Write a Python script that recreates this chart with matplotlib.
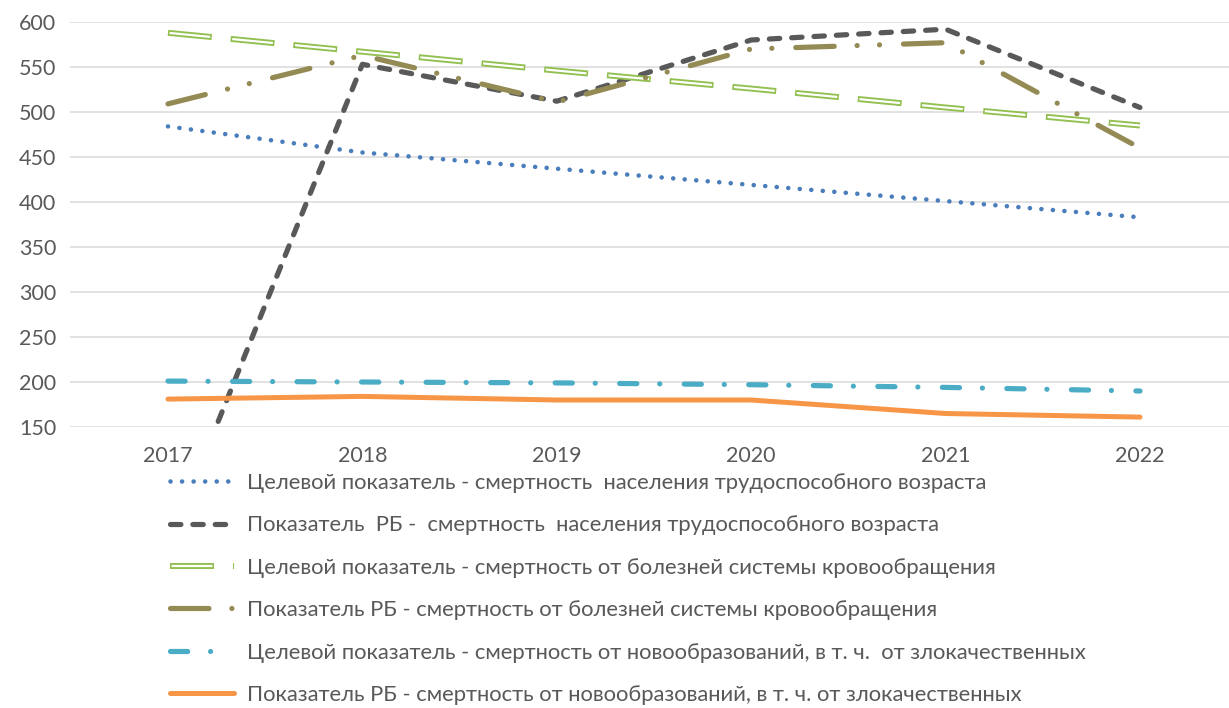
import matplotlib
matplotlib.use("Agg")
import matplotlib.pyplot as plt
from matplotlib.lines import Line2D

plt.rcParams['font.family'] = ['Lato', 'DejaVu Sans']

years = ['2017', '2018', '2019', '2020', '2021', '2022']
target_working = [484, 455, 437, 419, 401, 383]
rb_working = [18, 553, 512, 580, 592, 505]
target_circ = [588, 567, 546, 526, 505, 485]
rb_circ = [509, 563, 511, 570, 577, 460]
target_neo = [201, 200, 199, 197, 194, 190]
rb_neo = [181, 184, 180, 180, 165, 161]

labels = [
    "Целевой показатель - смертность  населения трудоспособного возраста",
    "Показатель  РБ -  смертность  населения трудоспособного возраста",
    "Целевой показатель - смертность от болезней системы кровообращения",
    "Показатель РБ - смертность от болезней системы кровообращения",
    "Целевой показатель - смертность от новообразований, в т. ч.  от злокачественных",
    "Показатель РБ - смертность от новообразований, в т. ч. от злокачественных",
]

txt = '#595959'
px = 72 / 100  # points per pixel

# green double line: outer dash pattern, inner white core inset at both ends
g_lw_o, g_lw_i = 6 * px, 2.2 * px
g_on, g_off, g_in = 44 * px, 19 * px, 1.6 * px
g_per = g_on + g_off

fig = plt.figure(figsize=(12.29, 7.08), dpi=100)
ax = fig.add_axes([70 / 1229, 1 - 427 / 708, 1159 / 1229, 405 / 708])
x = list(range(len(years)))

s_blue = dict(color='#4a7ebb', lw=4.6 * px, ls=(0, (0.01, 2.5)), dash_capstyle='round')
s_black = dict(color='#595959', lw=5.2 * px, ls=(0, (2.0, 2.3)), dash_capstyle='round')
s_green_o = dict(color='#92c050', lw=g_lw_o,
                 ls=(0, (g_on / g_lw_o, g_off / g_lw_o)), dash_capstyle='butt')
s_green_i = dict(color='white', lw=g_lw_i,
                 ls=((g_per - g_in) / g_lw_i, ((g_on - 2 * g_in) / g_lw_i, (g_off + 2 * g_in) / g_lw_i)),
                 dash_capstyle='butt')
s_olive = dict(color='#948a54', lw=5.2 * px, ls=(0, (7.4, 4.4, 0.01, 4.3, 0.01, 4.6)),
               dash_capstyle='round')
s_cyan = dict(color='#4bacc6', lw=5.2 * px, ls=(0, (3.3, 4.4, 0.01, 4.7)), dash_capstyle='round')
s_orange = dict(color='#f79646', lw=5 * px, ls='-', solid_capstyle='round')

ax.plot(x, target_working, zorder=3, **s_blue)
ax.plot(x, rb_working, zorder=4, **s_black)
ax.plot(x, target_circ, zorder=5, **s_green_o)
ax.plot(x, target_circ, zorder=5.1, **s_green_i)
ax.plot(x, rb_circ, zorder=6, **s_olive)
ax.plot(x, target_neo, zorder=7, **s_cyan)
ax.plot(x, rb_neo, zorder=8, **s_orange)

ax.set_xlim(-0.504, 5.458)
ax.set_ylim(150, 600)
ax.set_yticks(range(150, 601, 50))
ax.set_xticks(x)
ax.set_xticklabels(years)
ax.grid(axis='y', color='#d9d9d9', lw=1.5 * px)
ax.set_axisbelow(True)
for sp in ax.spines.values():
    sp.set_visible(False)
ax.tick_params(length=0, labelsize=15.5, labelcolor=txt)
ax.tick_params(axis='y', pad=10)
ax.tick_params(axis='x', pad=14)

handles = [
    Line2D([], [], **s_blue),
    Line2D([], [], **s_black),
    (Line2D([], [], **s_green_o), Line2D([], [], **s_green_i)),
    Line2D([], [], **s_olive),
    Line2D([], [], **s_cyan),
    Line2D([], [], **s_orange),
]
fig.legend(handles, labels, loc='upper left', bbox_to_anchor=(170 / 1229, 1 - 473 / 708),
           frameon=False, fontsize=15.8, labelcolor=txt, handlelength=2.9,
           handletextpad=0.6, labelspacing=1.02, borderpad=0, borderaxespad=0)

fig.savefig('out.png', dpi=100)
